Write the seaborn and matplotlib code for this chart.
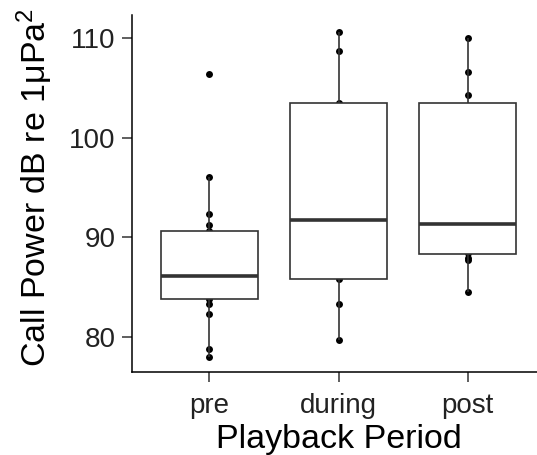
import matplotlib
matplotlib.use("Agg")
import matplotlib.pyplot as plt
import seaborn as sns
import pandas as pd

# values (points hidden behind the boxes are estimated)
periods = ["pre", "during", "post"]
pre_vals = [77.95, 78.75, 82.25, 83.29, 83.76, 84.5, 85.1, 85.7, 86.13,
            87.2, 88.4, 89.6, 90.66, 91.20, 92.34, 96.09, 106.38]
during_vals = [79.62, 83.24, 85.80, 88.5, 91.76, 97.0, 103.47, 108.75, 110.66]
post_vals = [84.52, 87.71, 87.96, 88.39, 89.7, 90.9, 91.82, 97.5, 103.18,
             104.34, 106.63, 110.06]
yticks = [80, 90, 100, 110]

df = pd.DataFrame({
    "period": ["pre"] * len(pre_vals) + ["during"] * len(during_vals) + ["post"] * len(post_vals),
    "power": pre_vals + during_vals + post_vals,
})

sns.set_style("ticks")
plt.rcParams["font.family"] = ["Liberation Sans", "DejaVu Sans"]
plt.rcParams["mathtext.fontset"] = "custom"
plt.rcParams["mathtext.rm"] = "Liberation Sans"
plt.rcParams["mathtext.it"] = "Liberation Sans:italic"

fig = plt.figure(figsize=(5.37, 4.55), dpi=100)
ax = fig.add_axes([132 / 537, 82.7 / 455, 405 / 537, 357.3 / 455])

sns.stripplot(data=df, x="period", y="power", order=periods, jitter=False,
              color="black", size=5.0, ax=ax, zorder=1)
sns.boxplot(data=df, x="period", y="power", order=periods, width=0.75,
            color="white", linecolor="#333333", linewidth=1.2, showfliers=False,
            showcaps=False,
            medianprops={"linewidth": 2.6, "color": "#333333", "zorder": 4},
            boxprops={"zorder": 3}, whiskerprops={"zorder": 2}, ax=ax)

ax.set_xlim(-0.6, 2.536)
ax.set_ylim(76.42, 112.34)
ax.set_yticks(yticks)
ax.set_yticklabels([str(t) for t in yticks])

sns.despine(ax=ax)
for s in ["left", "bottom"]:
    ax.spines[s].set_color("black")
    ax.spines[s].set_linewidth(1.1)
ax.tick_params(axis="both", length=7, width=1.1, color="#333333",
               labelsize=20, labelcolor="#222222")
ax.tick_params(axis="x", pad=8)
ax.tick_params(axis="y", pad=5)

ax.set_xlabel("Playback Period", fontsize=24.5, color="black")
ax.set_ylabel("Call Power dB re 1μPa$^2$", fontsize=24.5, color="black")
ax.xaxis.set_label_coords(0.51, -0.145)
ax.yaxis.set_label_coords(-0.19, 0.517)

fig.savefig("out.png", dpi=100)
